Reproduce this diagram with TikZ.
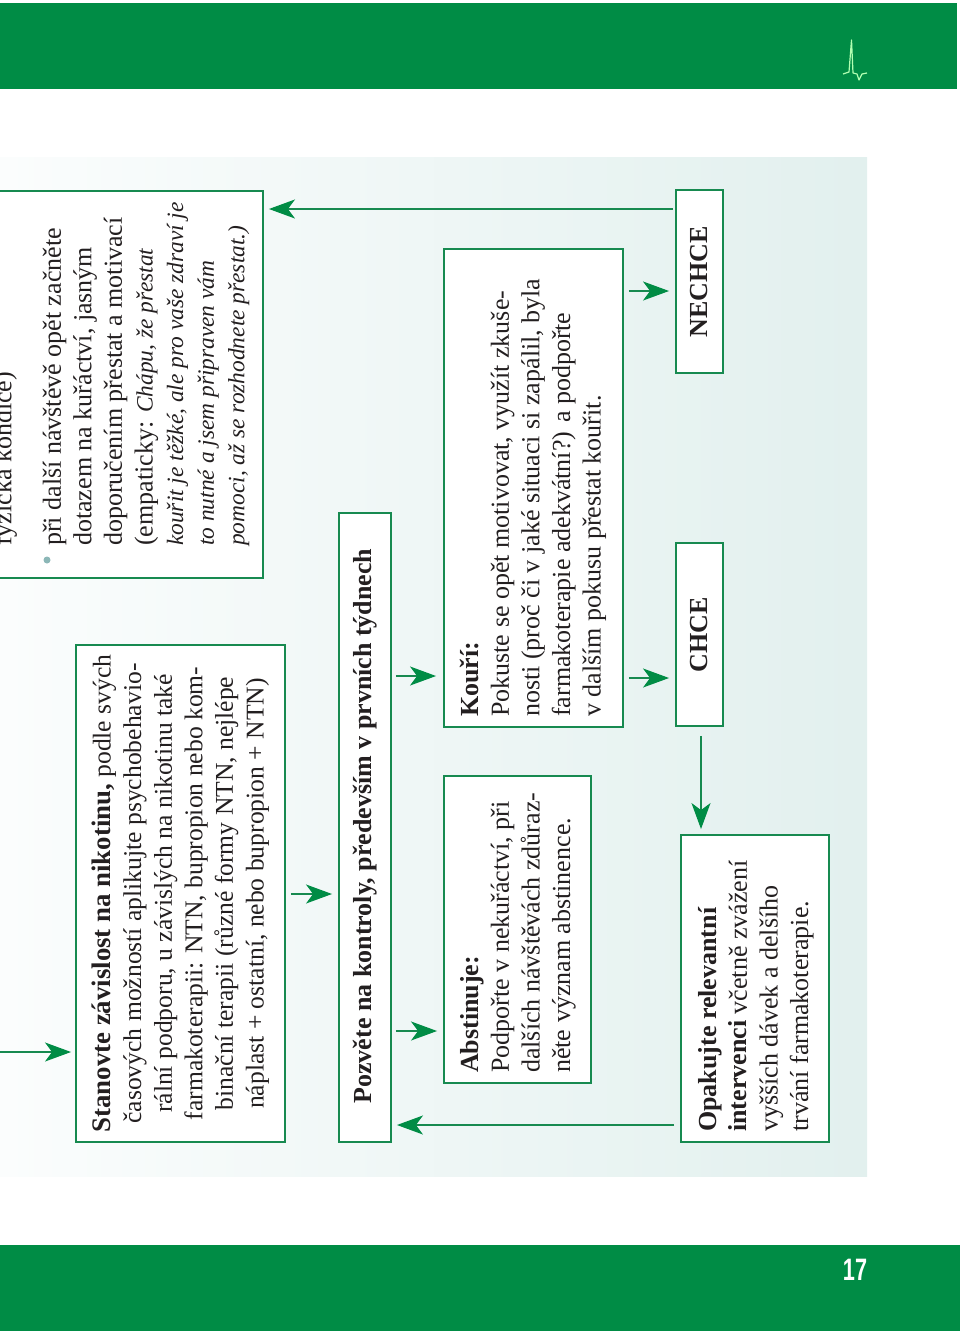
\documentclass[tikz,border=0pt]{standalone}
\usepackage{fontspec}
\setmainfont{Liberation Serif}
\newfontfamily\numfont{Liberation Sans}
\usetikzlibrary{arrows.meta,calc}
\definecolor{barGreen}{HTML}{008C45}
\definecolor{lineGreen}{HTML}{178A50}
\definecolor{bgEnd}{HTML}{E2F0EE}
\definecolor{bgStart}{HTML}{FBFDFD}
\definecolor{txt}{HTML}{231F20}
\newcommand{\itl}[1]{{\fontsize{23.4}{30.6}\selectfont\itshape #1}}
\newcommand{\bigb}[1]{{\fontsize{26.8}{30.6}\selectfont\bfseries #1}}
\tikzset{
  box/.style={draw=lineGreen,line width=1.9pt,fill=white,inner sep=0pt,rectangle},
  conn/.style={draw=lineGreen,line width=1.4pt,-{Stealth[length=26pt,width=19pt,inset=7pt,fill=barGreen,color=barGreen]}},
  blk/.style={rotate=90,inner sep=0pt,text=txt,align=left,font=\fontsize{26}{30.6}\selectfont},
  blkc/.style={blk,align=center,font=\fontsize{25.6}{30.6}\selectfont},
  one/.style={rotate=90,inner sep=0pt,text=txt,anchor=base,font=\fontsize{26}{30}\selectfont\bfseries},
}
\begin{document}
\begin{tikzpicture}[x=1pt,y=-1pt]
\useasboundingbox (0,0) rectangle (960,1331);
\clip (0,0) rectangle (960,1331);
\fill[barGreen] (0,3) rectangle (957,89);
\fill[barGreen] (0,1245) rectangle (960,1331);
\draw[line width=1.2pt,color=green!30!white,line join=round] (843,74)--(849,72)--(851.5,40)--(853,73)--(857,74)--(859,80)--(862,74)--(867,73);
\node[text=white,inner sep=0pt,font=\numfont\bfseries\fontsize{31}{31}\selectfont] (pg) at (855,1270) {\scalebox{.7}[1]{17}};
\shade[left color=bgStart,right color=bgEnd] (0,157) rectangle (867,1176);
% boxes
\node[box,minimum width=300pt,minimum height=387pt] (top) at (113,384.5) {};
\node[box,minimum width=209pt,minimum height=497pt] (stan) at (180.5,893.5) {};
\node[box,minimum width=52pt,minimum height=629pt] (poz) at (365,827.5) {};
\node[box,minimum width=147pt,minimum height=307pt] (abs) at (517.5,929.5) {};
\node[box,minimum width=179pt,minimum height=478pt] (kou) at (533.5,488) {};
\node[box,minimum width=47pt,minimum height=183pt] (chce) at (699.5,634.5) {};
\node[box,minimum width=47pt,minimum height=183pt] (nechce) at (699.5,281.5) {};
\node[box,minimum width=148pt,minimum height=307pt] (opak) at (755,988.5) {};
% texts
\node[blk,anchor=west] (tfyz) at (5,546) {fyzická kondice)};
\node[circle,fill=black!25!teal!45!white,inner sep=0pt,minimum size=7pt] (bul) at (47,560) {};
\node[blk,anchor=west] (ttop) at (146,546) {při další návštěvě opět začněte\\
dotazem na kuřáctví, jasným\\
doporučením přestat a motivací\\
(empaticky: \itl{Chápu, že přestat}\\
\itl{kouřit je těžké, ale pro vaše zdraví je}\\
\itl{to nutné a jsem připraven vám}\\
\itl{pomoci, až se rozhodnete přestat.)}};
\node[blkc] (tstan) at (180.5,893.5) {\bigb{Stanovte závislost na nikotinu,} podle svých\\
časových možností aplikujte psychobehavio-\\
rální podporu, u závislých na nikotinu také\\
farmakoterapii: NTN, bupropion nebo kom-\\
binační terapii (různé formy NTN, nejlépe\\
náplast + ostatní, nebo bupropion + NTN)};
\node[one] (tpoz) at (371,826) {Pozvěte na kontroly, především v prvních týdnech};
\node[blk,anchor=west] (tabs) at (518,1073) {\textbf{Abstinuje:}\\
Podpořte v nekuřáctví, při\\
dalších návštěvách zdůraz-\\
něte význam abstinence.};
\node[blk,anchor=west] (tkou) at (533,717) {\textbf{Kouří:}\\
Pokuste se opět motivovat, využít zkuše-\\
nosti (proč či v jaké situaci si zapálil, byla\\
farmakoterapie adekvátní?) a podpořte\\
v dalším pokusu přestat kouřit.};
\node[one] (tchce) at (707,634.5) {CHCE};
\node[one] (tnechce) at (707,281.5) {NECHCE};
\node[blk,anchor=west] (topak) at (756,1132) {\textbf{Opakujte relevantní}\\
\textbf{intervenci} včetně zvážení\\
vyšších dávek a delšího\\
trvání farmakoterapie.};
% connectors
\coordinate (inL) at (0,1052);
\draw[conn,shorten >=4pt] (inL) -- (stan.west |- inL);
\draw[conn,shorten <=5pt,shorten >=6pt] (stan.east |- 0,894) -- (poz.west |- 0,894);
\draw[conn,shorten <=4pt,shorten >=6pt] (poz.east |- 0,1031) -- (abs.west |- 0,1031);
\draw[conn,shorten <=4pt,shorten >=7pt] (poz.east |- 0,676) -- (kou.west |- 0,676);
\draw[conn,shorten <=6pt,shorten >=5pt] (opak.west |- 0,1125) -- (poz.east |- 0,1125);
\draw[conn,shorten <=5pt,shorten >=6pt] (kou.east |- 0,678) -- (chce.west |- 0,678);
\draw[conn,shorten <=5pt,shorten >=6pt] (kou.east |- 0,291) -- (nechce.west |- 0,291);
\draw[conn,shorten <=9pt,shorten >=5pt] (chce.south -| 701,0) -- (opak.north -| 701,0);
\draw[conn,shorten <=2pt,shorten >=5pt] (nechce.west |- 0,209) -- (top.east |- 0,209);
\end{tikzpicture}
\end{document}
